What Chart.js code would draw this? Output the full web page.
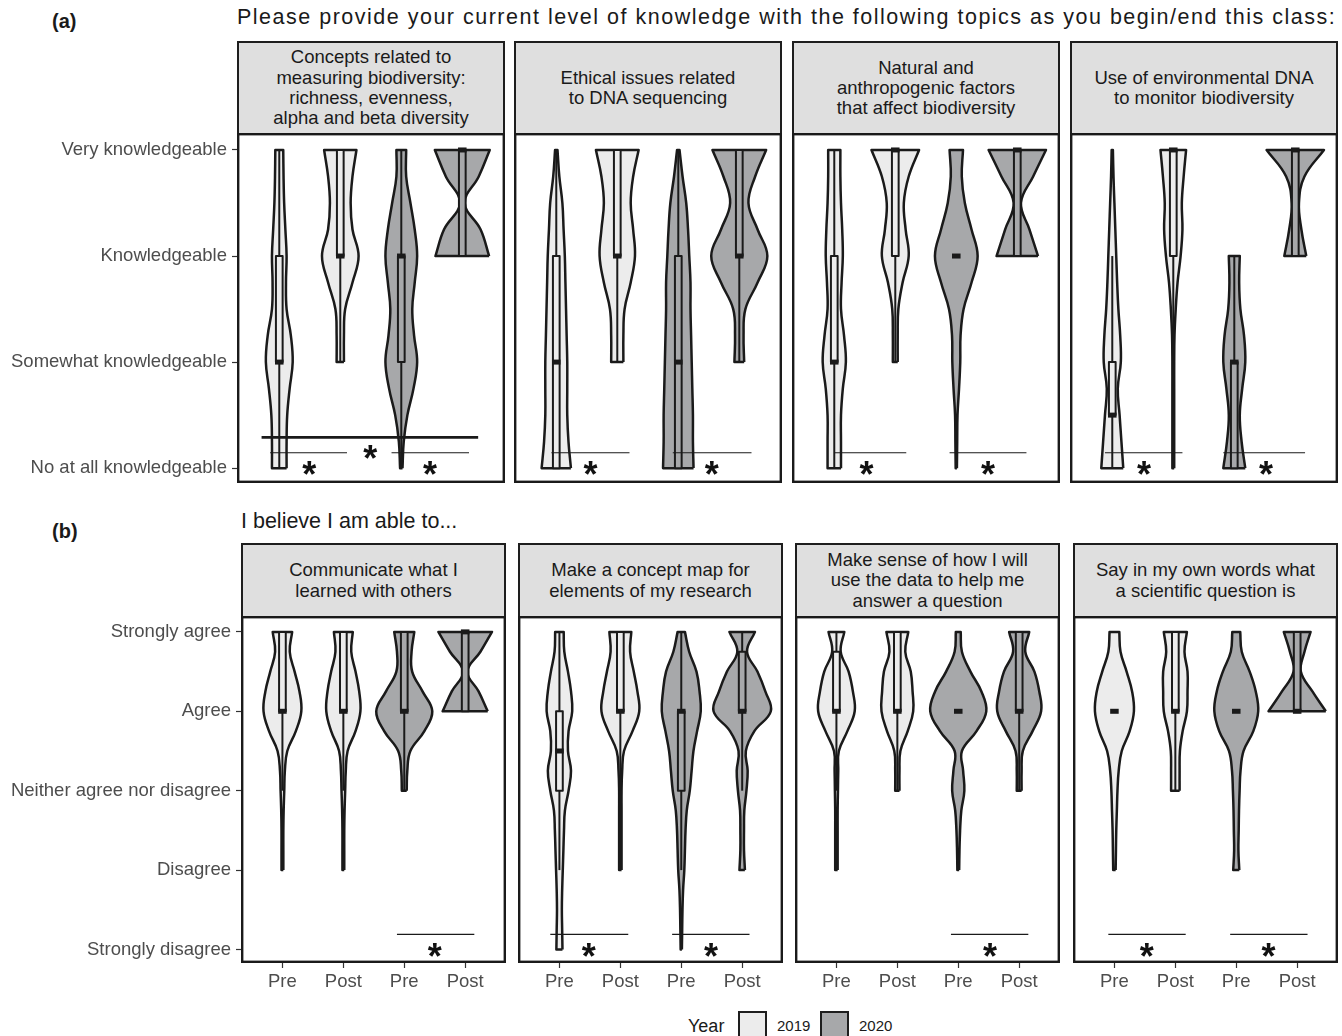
<!DOCTYPE html>
<html>
<head>
<meta charset="utf-8">
<title>Knowledge and ability ratings, 2019 vs 2020</title>
<script src="https://cdn.jsdelivr.net/npm/chart.js@4.4.1/dist/chart.umd.min.js"></script>
<style>
  body { margin: 0; width: 1342px; height: 1036px; overflow: hidden; background: #fff; position: relative;
         font-family: "Liberation Sans", Arial, sans-serif; color: #1a1a1a; }
  .abs { position: absolute; white-space: nowrap; line-height: 1; }
  .tag { font-weight: bold; font-size: 20px; }
  .question { font-size: 21.5px; }
  .strip { position: absolute; box-sizing: border-box; border: 2px solid #1e1e1e; background: #dfdfdf;
           display: flex; align-items: center; justify-content: center; text-align: center;
           white-space: pre-line; font-size: 18.5px; line-height: 20.3px; color: #1a1a1a; }
  .swatch { position: absolute; box-sizing: border-box; border: 2px solid #1e1e1e; width: 29px; height: 30px; top: 1011px; }
  canvas { position: absolute; }
</style>
</head>
<body>
<div class="abs tag" style="left:52px;top:11px">(a)</div>
<div class="abs question" style="left:237px;top:7px;letter-spacing:1.5px">Please provide your current level of knowledge with the following topics as you begin/end this class:</div>
<div class="abs tag" style="left:52px;top:521px">(b)</div>
<div class="abs question" style="left:241px;top:511px">I believe I am able to...</div>
<div id="legend"></div>

<script>
// ---- data ----
const STEP = 0.25; // violin widths are sampled every quarter level

const knowLevels = ['No at all knowledgeable', 'Somewhat knowledgeable', 'Knowledgeable', 'Very knowledgeable'];
const agreeLevels = ['Strongly disagree', 'Disagree', 'Neither agree nor disagree', 'Agree', 'Strongly agree'];
const timeLabels = ['Pre', 'Post', 'Pre', 'Post'];
const slotYears = ['2019', '2019', '2020', '2020'];
const yearNames = ['2019', '2020'];

const topicsA = [
  'Concepts related to\nmeasuring biodiversity:\nrichness, evenness,\nalpha and beta diversity',
  'Ethical issues related\nto DNA sequencing',
  'Natural and\nanthropogenic factors\nthat affect biodiversity',
  'Use of environmental DNA\nto monitor biodiversity'
];
const topicsB = [
  'Communicate what I\nlearned with others',
  'Make a concept map for\nelements of my research',
  'Make sense of how I will\nuse the data to help me\nanswer a question',
  'Say in my own words what\na scientific question is'
];

// violins: [lowest level, half-widths going up every 0.25 level]
// boxes:   [q1, median, q3, lower whisker, upper whisker]
// bars:    [from, to, level] significance lines; stars: [x, level]
const violinA1 = [
  [1, [.12, .12, .13, .17, .22, .19, .12, .11, .12, .10, .08, .07, .065]],
  [2, [.06, .06, .08, .20, .30, .20, .17, .20, .265]],
  [1, [.02, .04, .10, .20, .26, .21, .18, .22, .26, .22, .15, .08, .08]],
  [3, [.44, .30, .04, .27, .45]]
];
const boxA1 = [[2, 2, 3, 1, 4], [3, 3, 4, 2, 4], [2, 3, 3, 1, 4], [3, 4, 4, 3, 4]];
const barsA1 = [[0.85, 2.11, 1.145], [2.84, 4.11, 1.145]];
const wideBarsA1 = [[0.71, 4.26, 1.29]];
const starsA1 = [[1.49, 1], [3.47, 1], [2.49, 1.15]];

const violinA2 = [
  [1, [.24, .20, .18, .18, .18, .17, .16, .15, .14, .12, .10, .05, .02]],
  [2, [.10, .10, .12, .22, .29, .26, .22, .26, .35]],
  [1, [.25, .24, .24, .23, .22, .21, .20, .20, .18, .16, .13, .07, .02]],
  [2, [.08, .07, .10, .30, .46, .30, .15, .26, .44]]
];
const boxA2 = [[1, 2, 3, 1, 4], [3, 3, 4, 2, 4], [1, 2, 3, 1, 4], [3, 3, 4, 2, 4]];
const barsA2 = [[0.92, 2.2, 1.145], [2.91, 4.2, 1.145]];
const starsA2 = [[1.56, 1], [3.55, 1]];

const violinA3 = [
  [1, [.11, .11, .11, .14, .19, .16, .11, .12, .14, .13, .11, .10, .10]],
  [2, [.04, .04, .05, .12, .22, .17, .14, .22, .39]],
  [1, [.01, .015, .02, .045, .065, .07, .12, .25, .35, .25, .14, .09, .11]],
  [3, [.34, .20, .06, .26, .47]]
];
const boxA3 = [[2, 2, 3, 1, 4], [3, 4, 4, 2, 4], [3, 3, 3, 3, 3], [3, 4, 4, 3, 4]];
const barsA3 = [[1.0, 2.18, 1.145], [2.89, 4.15, 1.145]];
const starsA3 = [[1.53, 1], [3.52, 1]];

const violinA4 = [
  [1, [.18, .15, .12, .09, .14, .13, .10, .08, .065, .05, .035, .02, .01]],
  [1, [.015, .015, .015, .015, .015, .02, .04, .07, .12, .15, .14, .17, .21]],
  [1, [.18, .12, .09, .13, .18, .16, .10, .08, .09]],
  [3, [.18, .10, .06, .15, .47]]
];
const boxA4 = [[1.5, 1.5, 2, 1, 3], [3, 4, 4, 2, 4], [1, 2, 2, 1, 3], [3, 4, 4, 3, 4]];
const barsA4 = [[0.88, 2.15, 1.145], [2.82, 4.16, 1.145]];
const starsA4 = [[1.52, 1], [3.52, 1]];

const violinB1 = [
  [2, [.015, .015, .015, .02, .03, .04, .08, .22, .31, .28, .20, .12, .16]],
  [2, [.015, .015, .015, .02, .03, .04, .07, .20, .28, .26, .20, .13, .155]],
  [3, [.04, .05, .10, .33, .46, .30, .13, .12, .165]],
  [4, [.37, .22, .035, .25, .44]]
];
const boxB1 = [[4, 4, 5, 3, 5], [4, 4, 5, 3, 5], [4, 4, 5, 3, 5], [4, 5, 5, 4, 5]];
const barsB1 = [[2.88, 4.15, 1.19]];
const starsB1 = [[3.5, 1]];

const violinB2 = [
  [1, [.05, .045, .04, .045, .055, .065, .075, .09, .15, .19, .14, .15, .21, .19, .14, .08, .07]],
  [2, [.02, .02, .02, .02, .02, .03, .06, .20, .31, .28, .22, .16, .18]],
  [1, [.01, .015, .02, .03, .05, .06, .07, .09, .14, .17, .20, .26, .32, .30, .25, .13, .06]],
  [2, [.045, .03, .03, .035, .07, .09, .06, .20, .47, .38, .25, .08, .21]]
];
const boxB2 = [[3, 3.5, 4, 2, 5], [4, 4, 5, 3, 5], [3, 4, 4, 2, 5], [4, 4, 4.75, 3, 5]];
const barsB2 = [[0.85, 2.13, 1.19], [2.85, 4.12, 1.19]];
const starsB2 = [[1.48, 1], [3.49, 1]];

const violinB3 = [
  [2, [.02, .02, .02, .02, .025, .03, .04, .18, .30, .27, .20, .07, .13]],
  [3, [.035, .035, .05, .17, .26, .25, .22, .13, .18]],
  [2, [.015, .02, .03, .05, .10, .08, .06, .30, .46, .38, .20, .06, .04]],
  [3, [.04, .04, .06, .22, .36, .33, .25, .10, .165]]
];
const boxB3 = [[4, 4, 4.75, 3, 5], [4, 4, 5, 3, 5], [4, 4, 4, 4, 4], [4, 4, 5, 3, 5]];
const barsB3 = [[2.88, 4.15, 1.19]];
const starsB3 = [[3.52, 1]];

const violinB4 = [
  [2, [.02, .025, .03, .04, .05, .07, .12, .25, .32, .29, .20, .10, .08]],
  [3, [.07, .07, .075, .12, .19, .20, .20, .15, .19]],
  [2, [.05, .035, .04, .045, .055, .07, .12, .28, .36, .32, .22, .09, .065]],
  [4, [.47, .25, .06, .12, .22]]
];
const boxB4 = [[4, 4, 4, 4, 4], [4, 4, 5, 3, 5], [4, 4, 4, 4, 4], [4, 4, 5, 4, 5]];
const barsB4 = [[0.9, 2.17, 1.19], [2.9, 4.17, 1.19]];
const starsB4 = [[1.53, 1], [3.53, 1]];

// ---- look and layout ----
const FONT = '"Liberation Sans", Arial, sans-serif';
const INK = '#1a1a1a';
const yearFill = { '2019': '#ececec', '2020': '#a7a8aa' };
const BOX_HALF = 0.055;
const MED_HALF = 0.07;
const X_AXIS_H = 40;

const rowA = { top: 133, height: 350, lefts: [237, 514, 792, 1070], width: 268, stripTop: 41, stripH: 94,
               xMin: 0.307, xMax: 4.70, yMin: 0.86, yMax: 4.16, xAxis: false, levels: knowLevels };
const rowB = { top: 616, height: 347, lefts: [241, 518, 795, 1073], width: 265, stripTop: 543, stripH: 75,
               xMin: 0.32, xMax: 4.67, yMin: 0.83, yMax: 5.2, xAxis: true, levels: agreeLevels };

function outline(c, start, widths) {
  const right = widths.map((w, i) => ({ x: c + w, y: start + i * STEP }));
  const left = widths.map((w, i) => ({ x: c - w, y: start + i * STEP })).reverse();
  const r0 = right[0], rn = right[right.length - 1], ln = left[0], l0 = left[left.length - 1];
  // corner points doubled so the smoothed curve keeps flat ends
  return [...right, rn, ln, ...left, l0, r0, r0];
}

function seg(x1, y1, x2, y2, width, order) {
  return { data: [{ x: x1, y: y1 }, { x: x2, y: y2 }], borderColor: INK, borderWidth: width, tension: 0, order: order };
}

const frame = {
  id: 'frame',
  afterDraw(chart) {
    const { ctx, chartArea: a } = chart;
    ctx.save();
    ctx.strokeStyle = INK;
    ctx.lineWidth = 2.4;
    ctx.strokeRect(a.left + 1.2, a.top + 1.2, a.width - 2.4, a.height - 2.4);
    ctx.restore();
  }
};

const starMarks = {
  id: 'starMarks',
  afterDatasetsDraw(chart, args, opts) {
    const { ctx, scales: { x, y } } = chart;
    ctx.save();
    ctx.fillStyle = '#111';
    ctx.font = 'bold 36px ' + FONT;
    ctx.textAlign = 'center';
    ctx.textBaseline = 'alphabetic';
    const m = ctx.measureText('*');
    const dy = (m.actualBoundingBoxAscent - m.actualBoundingBoxDescent) / 2;
    (opts.points || []).forEach(([sx, sy]) => {
      ctx.fillText('*', x.getPixelForValue(sx), y.getPixelForValue(sy) + dy);
    });
    ctx.restore();
  }
};

function axisGrid() {
  return { display: true, drawOnChartArea: false, drawTicks: true, tickLength: 5, tickColor: '#333', tickWidth: 1.2 };
}

function buildPanel(row, col, topic, violins, boxes, bars, wideBars, stars) {
  // strip above the panel
  const strip = document.createElement('div');
  strip.className = 'strip';
  strip.style.left = row.lefts[col] + 'px';
  strip.style.top = row.stripTop + 'px';
  strip.style.width = row.width + 'px';
  strip.style.height = row.stripH + 'px';
  strip.textContent = topic;
  document.body.appendChild(strip);

  const first = col === 0;
  const canvas = document.createElement('canvas');
  const left = first ? 0 : row.lefts[col];
  canvas.width = first ? row.lefts[0] + row.width : row.width;
  canvas.height = row.height + (row.xAxis ? X_AXIS_H : 0);
  canvas.style.left = left + 'px';
  canvas.style.top = row.top + 'px';
  document.body.appendChild(canvas);

  const datasets = [];
  violins.forEach(([start, widths], i) => {
    const c = i + 1;
    const fill = yearFill[slotYears[i]];
    datasets.push({ data: outline(c, start, widths), fill: 'shape', backgroundColor: fill,
                    borderColor: INK, borderWidth: 2.5, tension: 0.4, order: 4 });
    const [q1, med, q3, lo, hi] = boxes[i];
    if (lo < q1) datasets.push(seg(c, lo, c, q1, 2, 3));
    if (hi > q3) datasets.push(seg(c, q3, c, hi, 2, 3));
    if (q3 > q1) {
      datasets.push({
        data: [{ x: c - BOX_HALF, y: q1 }, { x: c + BOX_HALF, y: q1 }, { x: c + BOX_HALF, y: q3 },
               { x: c - BOX_HALF, y: q3 }, { x: c - BOX_HALF, y: q1 }],
        fill: 'shape', backgroundColor: fill, borderColor: INK, borderWidth: 2, tension: 0, order: 2
      });
    }
    datasets.push(seg(c - MED_HALF, med, c + MED_HALF, med, 5, 1));
  });
  bars.forEach(([a, b, lv]) => datasets.push(seg(a, lv, b, lv, 1.2, 0)));
  (wideBars || []).forEach(([a, b, lv]) => datasets.push(seg(a, lv, b, lv, 2.6, 0)));

  const levels = row.levels;
  new Chart(canvas, {
    type: 'line',
    data: { datasets },
    options: {
      responsive: false,
      animation: false,
      devicePixelRatio: 1,
      events: [],
      layout: { padding: 0 },
      elements: { point: { radius: 0 }, line: { borderJoinStyle: 'round' } },
      plugins: {
        legend: { display: false },
        tooltip: { enabled: false },
        colors: { enabled: false },
        starMarks: { points: stars }
      },
      scales: {
        x: {
          type: 'linear', min: row.xMin, max: row.xMax, display: row.xAxis,
          afterBuildTicks: s => { s.ticks = timeLabels.map((_, i) => ({ value: i + 1 })); },
          afterFit: s => {
            if (row.xAxis) s.height = X_AXIS_H;
            s.paddingLeft = 0; s.paddingRight = 0;
          },
          grid: axisGrid(),
          border: { display: false },
          ticks: { color: '#4d4d4d', font: { family: FONT, size: 18.5 }, padding: 3,
                   autoSkip: false, maxRotation: 0, callback: v => timeLabels[v - 1] }
        },
        y: {
          type: 'linear', min: row.yMin, max: row.yMax, display: first,
          afterBuildTicks: s => { s.ticks = levels.map((_, i) => ({ value: i + 1 })); },
          afterFit: s => {
            if (first) s.width = row.lefts[0];
            s.paddingTop = 0; s.paddingBottom = 0;
          },
          grid: axisGrid(),
          border: { display: false },
          ticks: { color: '#4d4d4d', font: { family: FONT, size: 18.5 }, padding: 5,
                   autoSkip: false, callback: v => levels[v - 1] }
        }
      }
    },
    plugins: [frame, starMarks]
  });
}

buildPanel(rowA, 0, topicsA[0], violinA1, boxA1, barsA1, wideBarsA1, starsA1);
buildPanel(rowA, 1, topicsA[1], violinA2, boxA2, barsA2, null, starsA2);
buildPanel(rowA, 2, topicsA[2], violinA3, boxA3, barsA3, null, starsA3);
buildPanel(rowA, 3, topicsA[3], violinA4, boxA4, barsA4, null, starsA4);
buildPanel(rowB, 0, topicsB[0], violinB1, boxB1, barsB1, null, starsB1);
buildPanel(rowB, 1, topicsB[1], violinB2, boxB2, barsB2, null, starsB2);
buildPanel(rowB, 2, topicsB[2], violinB3, boxB3, barsB3, null, starsB3);
buildPanel(rowB, 3, topicsB[3], violinB4, boxB4, barsB4, null, starsB4);

// legend
const legend = document.getElementById('legend');
legend.innerHTML = '<div class="abs" style="left:688px;top:1017px;font-size:18px">Year</div>';
const swatchLefts = [738, 820];
yearNames.forEach((yr, i) => {
  legend.insertAdjacentHTML('beforeend',
    '<div class="swatch" style="left:' + swatchLefts[i] + 'px;background:' + yearFill[yr] + '"></div>' +
    '<div class="abs" style="left:' + (swatchLefts[i] + 39) + 'px;top:1018px;font-size:15px">' + yr + '</div>');
});
</script>
</body>
</html>
